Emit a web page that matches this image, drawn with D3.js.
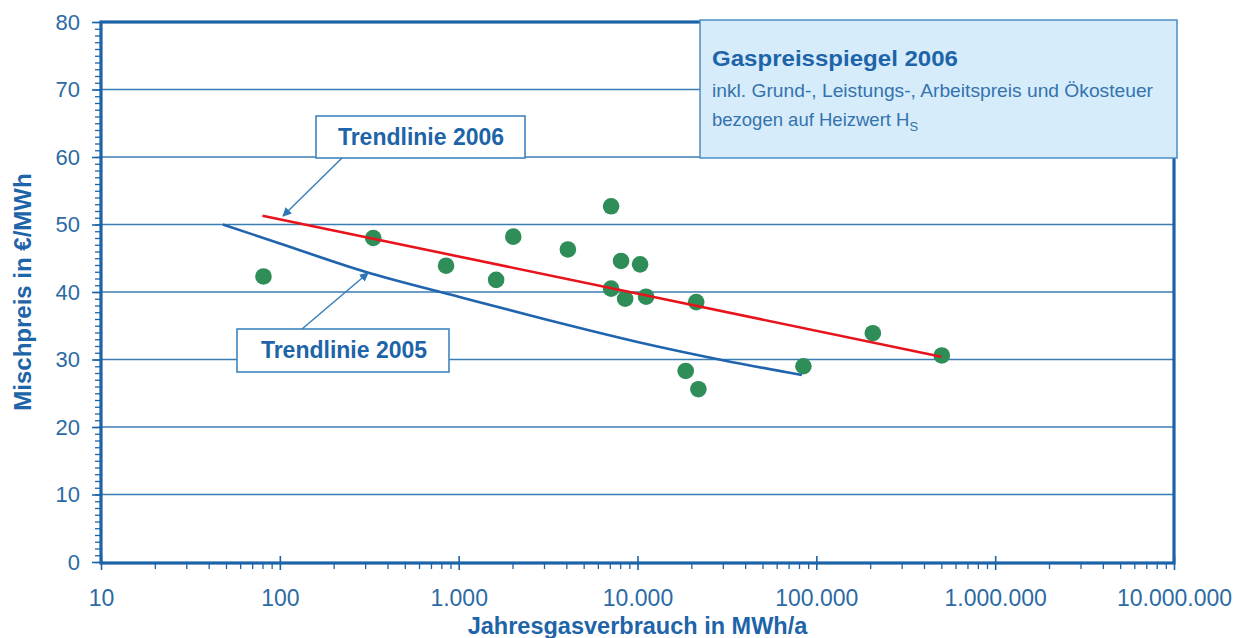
<!DOCTYPE html>
<html>
<head>
<meta charset="utf-8">
<script src="https://cdn.jsdelivr.net/npm/d3@7"></script>
<style>
  html, body { margin: 0; padding: 0; background: #ffffff; }
  svg { display: block; font-family: "Liberation Sans", Arial, sans-serif; }
</style>
</head>
<body>
<svg id="chart" width="1251" height="638"></svg>
<script>
// ---- data ----
const xTickValues = [10, 100, 1000, 10000, 100000, 1000000, 10000000];
const yTickValues = [0, 10, 20, 30, 40, 50, 60, 70, 80];

// gas consumption in MWh/a and mixed price in €/MWh (2006 survey points)
const consumption = [81, 333, 850, 1620, 2020, 4080, 7120, 8090, 10340, 7120, 8530, 11170, 21300, 18600, 21900, 84700, 207000, 503000];
const price       = [42.3, 48.0, 43.9, 41.8, 48.2, 46.3, 52.7, 44.6, 44.1, 40.5, 39.0, 39.3, 38.5, 28.3, 25.6, 29.0, 33.9, 30.6];

// trend line 2006
const trend2006X = [80, 500000];
const trend2006Y = [51.3, 30.4];

// trend line 2005
const trend2005X = [48, 100, 300, 1000, 3000, 10000, 30000, 83000];
const trend2005Y = [50.0, 47.2, 43.0, 39.3, 36.0, 32.6, 29.9, 27.7];

const titleText = "Gaspreisspiegel 2006";
const subText1 = "inkl. Grund-, Leistungs-, Arbeitspreis und Ökosteuer";
const subText2 = "bezogen auf Heizwert H";
const subText2Sub = "S";
const yTitle = "Mischpreis in €/MWh";
const xTitle = "Jahresgasverbrauch in MWh/a";
const label2006 = "Trendlinie 2006";
const label2005 = "Trendlinie 2005";

// ---- layout ----
const pLeft = 101, pRight = 1174, pTop = 22, pBottom = 562;
const axisColor = "#1b63a7";
const gridColor = "#3a7db5";
const textColor = "#2c6aa4";
const boldColor = "#1e64a8";

const svg = d3.select("#chart");

const x = d3.scaleLog().domain([10, 10000000]).range([pLeft, pRight]);
const y = d3.scaleLinear().domain([0, 80]).range([pBottom, pTop]);

const loc = d3.formatLocale({decimal: ",", thousands: ".", grouping: [3], currency: ["", "€"]});
const fmt = loc.format(",d");

// gridlines
svg.append("g")
  .selectAll("line")
  .data(yTickValues.filter(v => v > 0 && v < 80))
  .join("line")
  .attr("x1", pLeft).attr("x2", pRight)
  .attr("y1", d => y(d)).attr("y2", d => y(d))
  .attr("stroke", gridColor).attr("stroke-width", 1.4);

// y axis (left) with minor ticks
const yAxis = d3.axisLeft(y).tickValues(d3.range(0, 81, 1)).tickSize(6).tickFormat("");
const gy = svg.append("g").attr("transform", `translate(${pLeft},0)`).call(yAxis);
gy.select(".domain").remove();
gy.selectAll(".tick line").attr("stroke", axisColor).attr("stroke-width", 1.3);

const yMajor = d3.axisLeft(y).tickValues(yTickValues).tickSize(9).tickPadding(12).tickFormat(d3.format("d"));
const gyM = svg.append("g").attr("transform", `translate(${pLeft},0)`).call(yMajor);
gyM.select(".domain").remove();
gyM.selectAll(".tick line").attr("stroke", axisColor).attr("stroke-width", 1.6);
gyM.selectAll(".tick text")
  .attr("fill", textColor)
  .style("font-size", "22px")
  .style("font-family", "'Liberation Sans', Arial, sans-serif");

// x axis minor ticks
const minorX = [];
for (let dec = 10; dec < 10000000; dec *= 10) {
  for (let k = 2; k <= 9; k++) minorX.push(dec * k);
}
const xMinor = d3.axisBottom(x).tickValues(minorX).tickSize(6).tickFormat("");
const gxm = svg.append("g").attr("transform", `translate(0,${pBottom + 1})`).call(xMinor);
gxm.select(".domain").remove();
gxm.selectAll(".tick line").attr("stroke", axisColor).attr("stroke-width", 1.3);

const xMajor = d3.axisBottom(x).tickValues(xTickValues).tickSize(7).tickPadding(20).tickFormat(fmt);
const gx = svg.append("g").attr("transform", `translate(0,${pBottom + 1})`).call(xMajor);
gx.select(".domain").remove();
gx.selectAll(".tick line").attr("stroke", axisColor).attr("stroke-width", 1.6).attr("y1", -7);
gx.selectAll(".tick text")
  .attr("fill", textColor)
  .style("font-size", "23px")
  .style("font-family", "'Liberation Sans', Arial, sans-serif");

// plot frame
svg.append("rect")
  .attr("x", pLeft).attr("y", pTop)
  .attr("width", pRight - pLeft).attr("height", pBottom - pTop + 1)
  .attr("fill", "none")
  .attr("stroke", axisColor).attr("stroke-width", 3.2);

// points
svg.append("g")
  .selectAll("circle")
  .data(consumption.map((c, i) => ({c, p: price[i]})))
  .join("circle")
  .attr("cx", d => x(d.c))
  .attr("cy", d => y(d.p))
  .attr("r", 8.3)
  .attr("fill", "#2f8d57");

// trend lines
svg.append("path")
  .datum(trend2005X.map((v, i) => [v, trend2005Y[i]]))
  .attr("d", d3.line().x(d => x(d[0])).y(d => y(d[1])).curve(d3.curveMonotoneX))
  .attr("fill", "none").attr("stroke", "#1f64ad").attr("stroke-width", 2.6);

svg.append("path")
  .datum(trend2006X.map((v, i) => [v, trend2006Y[i]]))
  .attr("d", d3.line().x(d => x(d[0])).y(d => y(d[1])))
  .attr("fill", "none").attr("stroke", "#e8141c").attr("stroke-width", 2.6);

// arrow marker
const defs = svg.append("defs");
defs.append("marker")
  .attr("id", "arr")
  .attr("viewBox", "0 0 10 10")
  .attr("refX", 9).attr("refY", 5)
  .attr("markerWidth", 9).attr("markerHeight", 9)
  .attr("markerUnits", "userSpaceOnUse")
  .attr("orient", "auto")
  .append("path").attr("d", "M0,0 L10,5 L0,10 Z").attr("fill", "#2f78b8");

// annotation boxes
function labelBox(x0, y0, w, h, text, tx, ty) {
  svg.append("rect")
    .attr("x", x0).attr("y", y0).attr("width", w).attr("height", h)
    .attr("fill", "#ffffff").attr("stroke", "#3f84bd").attr("stroke-width", 1.6);
  svg.append("text")
    .attr("x", tx).attr("y", ty)
    .attr("text-anchor", "middle")
    .attr("fill", boldColor)
    .style("font-weight", "bold")
    .style("font-size", "23px")
    .text(text);
}
labelBox(316, 116, 209, 42, label2006, 421, 145);
labelBox(237, 329, 212, 43, label2005, 344, 358);

// arrows
svg.append("line")
  .attr("x1", 342).attr("y1", 158).attr("x2", 283).attr("y2", 216)
  .attr("stroke", "#3a80bb").attr("stroke-width", 1.5)
  .attr("marker-end", "url(#arr)");
svg.append("line")
  .attr("x1", 302).attr("y1", 329).attr("x2", 368).attr("y2", 273)
  .attr("stroke", "#3a80bb").attr("stroke-width", 1.5)
  .attr("marker-end", "url(#arr)");

// info box
svg.append("rect")
  .attr("x", 700).attr("y", 20).attr("width", 477).attr("height", 138)
  .attr("fill", "#d6ecfa").attr("stroke", "#4a8dc5").attr("stroke-width", 1.5);
svg.append("text")
  .attr("x", 712).attr("y", 66)
  .attr("fill", boldColor)
  .style("font-weight", "bold").style("font-size", "22px")
  .attr("textLength", 246).attr("lengthAdjust", "spacingAndGlyphs")
  .text(titleText);
svg.append("text")
  .attr("x", 712).attr("y", 97)
  .attr("fill", "#3473ae")
  .style("font-size", "18.5px")
  .attr("textLength", 441).attr("lengthAdjust", "spacingAndGlyphs")
  .text(subText1);
const t2 = svg.append("text")
  .attr("x", 712).attr("y", 126)
  .attr("fill", "#3473ae")
  .style("font-size", "18.5px");
t2.append("tspan").text(subText2);
t2.append("tspan").attr("dy", 5).style("font-size", "13px").text(subText2Sub);

// axis titles
svg.append("text")
  .attr("transform", `translate(31,${(pTop + pBottom) / 2}) rotate(-90)`)
  .attr("text-anchor", "middle")
  .attr("fill", boldColor)
  .style("font-weight", "bold").style("font-size", "24px")
  .text(yTitle);

svg.append("text")
  .attr("x", (pLeft + pRight) / 2).attr("y", 634)
  .attr("text-anchor", "middle")
  .attr("fill", boldColor)
  .style("font-weight", "bold").style("font-size", "23.5px")
  .text(xTitle);
</script>
</body>
</html>
